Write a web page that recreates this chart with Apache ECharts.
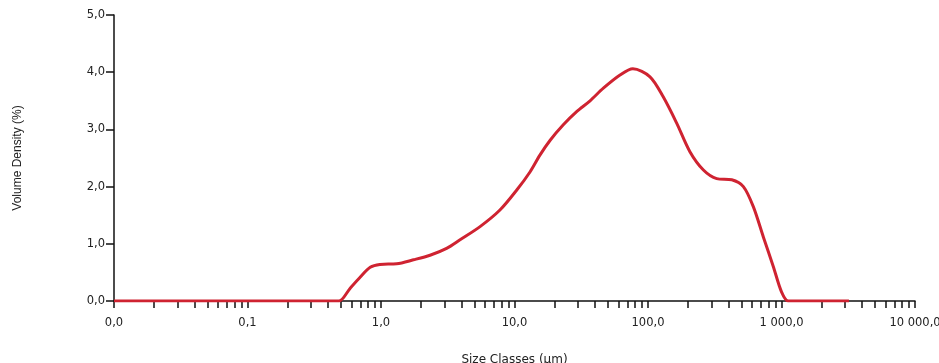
<!DOCTYPE html>
<html>
<head>
<meta charset="utf-8">
<script src="https://cdn.jsdelivr.net/npm/echarts@6/dist/echarts.min.js"></script>
<style>html,body{margin:0;padding:0;background:#fff}#c{width:939px;height:363px}</style>
</head>
<body>
<div id="c"></div>
<script>
// Size classes (µm) and volume density (%)
var sizes = [0.01, 0.1, 0.3, 0.42, 0.485, 0.586, 0.70, 0.83, 0.98, 1.31, 1.75, 2.33, 3.10, 3.91, 5.52, 7.78, 10.4, 13.1, 15.5, 18.5, 23.2, 29.2, 36.8, 46.3, 61.7, 77, 103.5, 130, 164, 206, 260, 327, 424, 518, 615, 731, 869, 1000, 1122, 1300, 2000, 3200];
var density = [0, 0, 0, 0, 0, 0.22, 0.42, 0.59, 0.64, 0.65, 0.72, 0.80, 0.92, 1.07, 1.30, 1.59, 1.94, 2.26, 2.55, 2.81, 3.08, 3.31, 3.50, 3.72, 3.95, 4.06, 3.92, 3.57, 3.11, 2.61, 2.29, 2.14, 2.12, 2.0, 1.65, 1.12, 0.60, 0.16, 0, 0, 0, 0];
var xMajor = [0.01, 0.1, 1, 10, 100, 1000, 10000];
var xTicks = [0.01,0.02,0.03,0.04,0.05,0.06,0.07,0.08,0.09,0.1,0.2,0.3,0.4,0.5,0.6,0.7,0.8,0.9,1,2,3,4,5,6,7,8,9,10,20,30,40,50,60,70,80,90,100,200,300,400,500,600,700,800,900,1000,2000,3000,4000,5000,6000,7000,8000,9000,10000];
var yTicks = [0, 1, 2, 3, 4, 5];

function fmt(v) {
  var s = (Math.round(v * 10) / 10).toFixed(1);
  var parts = s.split('.');
  var ip = parts[0].replace(/\B(?=(\d{3})+(?!\d))/g, ' ');
  return ip + ',' + parts[1];
}

var chart = echarts.init(document.getElementById('c'));
var font = 'DejaVu Sans';
chart.setOption({
  animation: false,
  grid: { left: 114, right: 24, top: 15, bottom: 62, containLabel: false, outerBoundsMode: 'none' },
  xAxis: {
    type: 'log', logBase: 10, min: 0.01, max: 10000,
    name: 'Size Classes (µm)', nameLocation: 'middle', nameGap: 53,
    nameTextStyle: { fontFamily: font, fontSize: 12, color: '#222' },
    axisLine: { lineStyle: { color: '#111', width: 1.5 } },
    axisTick: { show: true, inside: false, length: 7, lineStyle: { color: '#111', width: 1.5 }, customValues: xTicks },
    axisLabel: { customValues: xMajor, formatter: fmt, fontFamily: font, fontSize: 11.5, color: '#222', margin: 16 },
    splitLine: { show: false },
    minorTick: { show: false }
  },
  yAxis: {
    type: 'value', min: 0, max: 5, interval: 1,
    name: 'Volume Density (%)', nameLocation: 'middle', nameGap: 90, nameRotate: 90,
    nameTextStyle: { fontFamily: 'Liberation Sans', fontSize: 12, color: '#222' },
    axisLine: { show: true, lineStyle: { color: '#111', width: 1.5 } },
    axisTick: { show: true, inside: false, length: 8, lineStyle: { color: '#111', width: 1.5 } },
    axisLabel: { customValues: yTicks, formatter: fmt, fontFamily: font, fontSize: 11.5, color: '#222', margin: 9 },
    splitLine: { show: false }
  },
  series: [{
    type: 'line',
    data: sizes.map(function (s, i) { return [s, density[i]]; }),
    showSymbol: false,
    smooth: 0.3,
    lineStyle: { color: '#cf2331', width: 3 },
    z: 1
  }]
});
</script>
</body>
</html>
